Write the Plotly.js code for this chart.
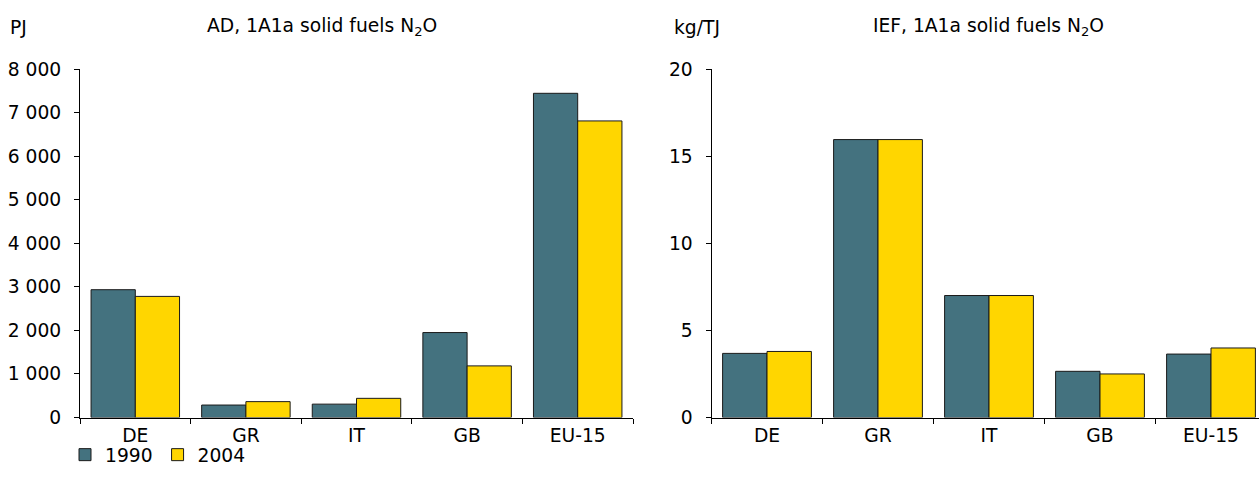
<!DOCTYPE html>
<html>
<head>
<meta charset="utf-8">
<script src="https://cdn.plot.ly/plotly-3.0.1.min.js"></script>
<style>
html,body{margin:0;padding:0;background:#fff;}
#chart{width:1259px;height:486px;}
</style>
</head>
<body>
<div id="chart"></div>
<script>
var categories = ["DE", "GR", "IT", "GB", "EU-15"];
var seriesNames = ["1990", "2004"];
var ad1990 = [2934, 286, 307, 1950, 7442];
var ad2004 = [2780, 364, 440, 1185, 6808];
var ief1990 = [3.68, 15.95, 7.0, 2.65, 3.64];
var ief2004 = [3.79, 15.95, 7.0, 2.5, 3.99];
var adTickVals = [0, 1000, 2000, 3000, 4000, 5000, 6000, 7000, 8000];
var adTickText = ["0", "1 000", "2 000", "3 000", "4 000", "5 000", "6 000", "7 000", "8 000"];
var iefTickVals = [0, 5, 10, 15, 20];
var iefTickText = ["0", "5", "10", "15", "20"];
var leftTitle = "AD, 1A1a solid fuels N<sub>2</sub>O";
var rightTitle = "IEF, 1A1a solid fuels N<sub>2</sub>O";
var leftUnit = "PJ";
var rightUnit = "kg/TJ";

var colors = ["#44727F", "#FFD600"];
var FONT = "DejaVu Sans, Verdana, sans-serif";
var FS = 18.7;
var W = 1259, H = 486;

function bar(name, y, color, xa, ya, show) {
  return {
    type: "bar", name: name, x: categories, y: y,
    xaxis: xa, yaxis: ya, showlegend: show, legendgroup: name,
    marker: {color: color, line: {color: "#1a1a1a", width: 1}},
    hoverinfo: "x+y"
  };
}

var data = [
  bar(seriesNames[0], ad1990, colors[0], "x", "y", true),
  bar(seriesNames[1], ad2004, colors[1], "x", "y", true),
  bar(seriesNames[0], ief1990, colors[0], "x2", "y2", false),
  bar(seriesNames[1], ief2004, colors[1], "x2", "y2", false)
];

var yTop = 69, yBot = 417.5;
var yDom = [(H - yBot) / H, (H - yTop) / H];

function xaxis(dom, range, anchor) {
  return {
    domain: dom, anchor: anchor, type: "category", range: range,
    showline: true, linecolor: "#000", linewidth: 1,
    ticks: "outside", ticklen: 5, tickcolor: "#000", tickwidth: 1,
    tickson: "boundaries", showgrid: false, zeroline: false,
    tickfont: {family: FONT, size: FS, color: "#000"},
    ticklabelstandoff: 1, fixedrange: true
  };
}
function yaxis(range, vals, txt, anchor) {
  return {
    domain: yDom, anchor: anchor, range: range,
    tickvals: vals, ticktext: txt,
    showline: true, linecolor: "#000", linewidth: 1,
    ticks: "outside", ticklen: 5, tickcolor: "#000", tickwidth: 1,
    showgrid: false, zeroline: false,
    tickfont: {family: FONT, size: FS, color: "#000"},
    ticklabelstandoff: 9, fixedrange: true
  };
}

var leftX0 = 80, leftX1 = 633;
var rightX0 = 711.5, catW = 111;
var rightEnd = -0.5 + (W - rightX0) / catW;

var layout = {
  width: W, height: H,
  margin: {l: 0, r: 0, t: 0, b: 0, pad: 0},
  paper_bgcolor: "#fff", plot_bgcolor: "#fff",
  font: {family: FONT, size: FS, color: "#000"},
  barmode: "group", bargap: 0.2, bargroupgap: 0,
  xaxis: xaxis([leftX0 / W, leftX1 / W], [-0.5, 4.5], "y"),
  yaxis: yaxis([0, 8000], adTickVals, adTickText, "x"),
  xaxis2: xaxis([rightX0 / W, 1], [-0.5, rightEnd], "y2"),
  yaxis2: yaxis([0, 20], iefTickVals, iefTickText, "x2"),
  showlegend: true,
  legend: {
    orientation: "h", x: 65 / W, y: (H - 436) / H, xanchor: "left", yanchor: "top",
    font: {family: FONT, size: FS, color: "#000"},
    itemwidth: 30, tracegroupgap: 0, traceorder: "normal",
    bgcolor: "rgba(0,0,0,0)"
  },
  annotations: [
    {text: leftUnit, xref: "paper", yref: "paper", x: 8 / W, y: (H - 27) / H, xanchor: "left", yanchor: "middle", showarrow: false, font: {family: FONT, size: FS}},
    {text: leftTitle, xref: "paper", yref: "paper", x: 322 / W, y: (H - 27) / H, xanchor: "center", yanchor: "middle", showarrow: false, font: {family: FONT, size: FS}},
    {text: rightUnit, xref: "paper", yref: "paper", x: 672 / W, y: (H - 27) / H, xanchor: "left", yanchor: "middle", showarrow: false, font: {family: FONT, size: FS}},
    {text: rightTitle, xref: "paper", yref: "paper", x: 988 / W, y: (H - 27) / H, xanchor: "center", yanchor: "middle", showarrow: false, font: {family: FONT, size: FS}}
  ]
};

Plotly.newPlot("chart", data, layout, {displayModeBar: false, staticPlot: true});
</script>
</body>
</html>
